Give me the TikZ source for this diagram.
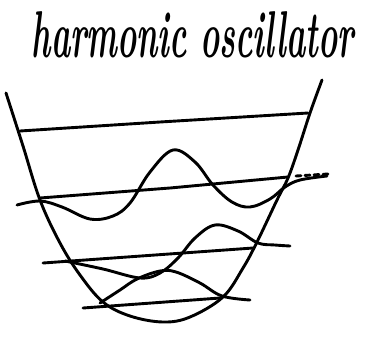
\documentclass[tikz,border=0pt]{standalone}
\begin{document}
\begin{tikzpicture}[x=1pt,y=-1pt,
  ink/.style={line width=2.9pt,line cap=round,line join=round},
  lvl/.style={ink},
  wave/.style={ink}]
\useasboundingbox (0,0) rectangle (366,338);
\node[inner sep=0pt] (title) at (193,35) {\resizebox{322pt}{46pt}{\bfseries\itshape harmonic oscillator}};
% potential well
\draw[ink] plot[smooth,tension=0.6] coordinates {(6,93) (23,146) (40,200) (60,243) (80,275) (103,302) (130,316) (163,322) (190,317) (223,297) (243,268) (257,242) (277,200) (288,178) (298,150) (310,113) (322,80)};
% energy levels
\draw[lvl] (20,131) -- (160,122) -- (308,113);
\draw[lvl] (40,198) -- (170,188) -- (288,177);
\draw[ink,dash pattern=on 5pt off 4pt] (296,176) -- (328,174);
\draw[lvl] (43,263) -- (253,248);
\draw[lvl] (83,308) -- (220,298);
% wave functions
\draw[wave] plot[smooth,tension=0.6] coordinates {(17,205) (40,201) (62,207) (90,219) (113,216) (130,203) (150,172) (173,150) (195,162) (213,185) (232,202) (250,207) (270,199) (285,187) (300,180) (327,176)};
\draw[wave] plot[smooth,tension=0.6] coordinates {(65,261) (103,269) (140,278) (160,273) (178,258) (195,238) (215,225) (238,231) (258,243) (275,245) (290,246)};
\draw[wave] plot[smooth,tension=0.6] coordinates {(100,303) (120,290) (137,279) (160,271) (176,272) (200,283) (222,296) (250,300)};
\end{tikzpicture}
\end{document}
